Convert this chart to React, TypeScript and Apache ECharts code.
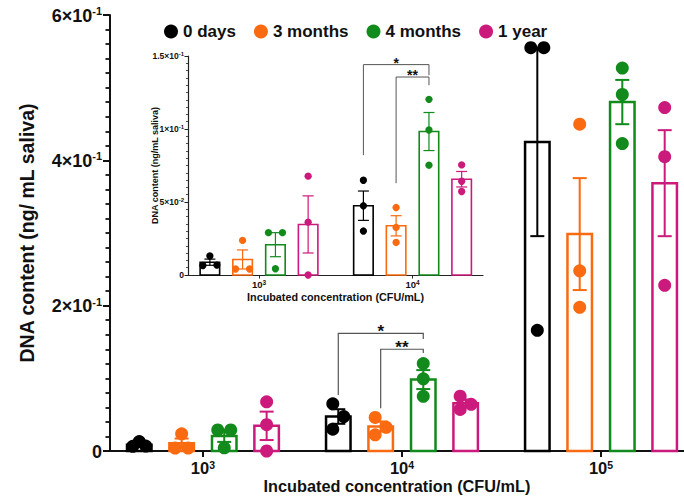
import React, { useEffect, useRef } from 'react';
import * as echarts from 'echarts';

// ---------- data ----------
const groupNames = ['0 days', '3 months', '4 months', '1 year'];
const groupColors = ['#000000', '#FA6A10', '#128A1C', '#CC1A7C'];
const xTickLabels = ['10|3', '10|4', '10|5'];
const insetXTickLabels = ['10|3', '10|4'];
const mainYTickLabels = ['0', '2×10|-1', '4×10|-1', '6×10|-1'];
const insetYTickLabels = ['0', '5×10|-2', '1×10|-1', '1.5×10|-1'];

// replicate values (ng/mL saliva) per concentration: [10^3, 10^4, 10^5]
const days0 = [[0.013, 0.0065, 0.0068], [0.0649, 0.0474, 0.0301], [0.555, 0.555, 0.166]];
const months3 = [[0.0237, 0.0041, 0.0041], [0.0462, 0.0326, 0.0223], [0.4498, 0.248, 0.1977]];
const months4 = [[0.029, 0.029, 0.0043], [0.1203, 0.0993, 0.0752], [0.527, 0.4906, 0.423]];
const year1 = [[0.0677, 0.0362, 0.0], [0.0754, 0.0642, 0.0572], [0.4727, 0.405, 0.228]];
const replicates = [days0, months3, months4, year1];

// significance brackets (within 10^4 group): from series -> to series
const bracketLabels = ['*', '**'];
const bracketFrom = [0, 1];
const bracketTo = [2, 2];
const mainBracketTop = [0.162, 0.14];
const mainBracketLeftEnd = [0.077, 0.059];
const mainBracketRightEnd = [0.154, 0.135];
const insetBracketTop = [0.1441, 0.1356];
const insetBracketLeftEnd = [0.0821, 0.0629];
const insetBracketRightEnd = [0.1368, 0.13];

// ---------- layout ----------
const FONT = '"Liberation Sans", Arial, Helvetica, sans-serif';
const seriesOffset = [-0.32, -0.107, 0.107, 0.32];
const MAIN = { left: 110, top: 15, width: 574, height: 436, xMin: 0.533, xMax: 3.417, yMax: 0.6, yInt: 0.2 };
const INSET = { left: 188, top: 56, width: 295, height: 219, xMin: 0.5375, xMax: 2.459, yMax: 0.15, yInt: 0.05 };

const mean = (a: number[]) => a.reduce((s, v) => s + v, 0) / a.length;
const sem = (a: number[]) => {
  const m = mean(a);
  const sd = Math.sqrt(a.reduce((s, v) => s + (v - m) * (v - m), 0) / (a.length - 1));
  return sd / Math.sqrt(a.length);
};

function beeswarm(vals: number[], pxPerY: number, d: number, rowTol: number, spread: number, alt: number): number[] {
  const order = vals.map((_, i) => i).sort((a, b) => vals[a] - vals[b]);
  const rows: { y0: number; items: number[] }[] = [];
  for (const i of order) {
    const y = vals[i] * pxPerY;
    const last = rows[rows.length - 1];
    if (last && y - last.y0 < rowTol) last.items.push(i);
    else rows.push({ y0: y, items: [i] });
  }
  const off = vals.map(() => 0);
  rows.forEach((r) => {
    const n = r.items.length;
    if (n > 1) r.items.forEach((i, k) => (off[i] = (k - (n - 1) / 2) * spread));
  });
  let chain: number[] = [];
  const flush = () => {
    if (chain.length > 1) chain.forEach((ri, k) => (off[rows[ri].items[0]] = k % 2 === 0 ? -alt : alt));
    chain = [];
  };
  rows.forEach((r, ri) => {
    if (r.items.length !== 1) { flush(); return; }
    if (chain.length && r.y0 - rows[chain[chain.length - 1]].y0 < d) chain.push(ri);
    else { flush(); chain = [ri]; }
  });
  flush();
  return off;
}

function supLabel(s: string) {
  if (s.indexOf('|') < 0) return `{b|${s}}`;
  const [b, p] = s.split('|');
  return `{b|${b}}{s|${p}}`;
}

function richFor(base: number, sup: number) {
  return {
    b: { fontSize: base, fontWeight: 'bold', fontFamily: FONT, color: '#111', verticalAlign: 'bottom', lineHeight: base + 1 },
    s: { fontSize: sup, fontWeight: 'bold', fontFamily: FONT, color: '#111', verticalAlign: 'top', lineHeight: sup + 1 },
  };
}

function buildGrid(gi: number, L: typeof MAIN, nConc: number, opt: {
  barW: number; barLW: number; errLW: number; cap: number; dot: number; rowTol: number; spread: number; alt: number;
}) {
  const pxX = L.width / (L.xMax - L.xMin);
  const pxY = L.height / L.yMax;
  const series: any[] = [];
  groupNames.forEach((name, g) => {
    const color = groupColors[g];
    const barData = replicates[g].slice(0, nConc).map((vals, c) => [c + 1 + seriesOffset[g], mean(vals), sem(vals)]);
    series.push({
      type: 'custom',
      name: name + ' bar',
      xAxisIndex: gi,
      yAxisIndex: gi,
      z: 2,
      encode: { x: 0, y: 1 },
      data: barData,
      renderItem: (params: any, api: any) => {
        const x = api.value(0);
        const m = api.value(1);
        const s = api.value(2);
        const p0 = api.coord([x, 0]);
        const p1 = api.coord([x, m]);
        const pt = api.coord([x, m + s]);
        const pb = api.coord([x, Math.max(0, m - s)]);
        const w = opt.barW;
        const st = { stroke: color, lineWidth: opt.errLW, fill: 'none' };
        return {
          type: 'group',
          children: [
            { type: 'rect', shape: { x: p0[0] - w / 2, y: p1[1], width: w, height: p0[1] - p1[1] }, style: { fill: 'none', stroke: color, lineWidth: opt.barLW } },
            { type: 'line', shape: { x1: p0[0], y1: pb[1], x2: p0[0], y2: pt[1] }, style: st },
            { type: 'line', shape: { x1: p0[0] - opt.cap, y1: pt[1], x2: p0[0] + opt.cap, y2: pt[1] }, style: st },
            { type: 'line', shape: { x1: p0[0] - opt.cap, y1: pb[1], x2: p0[0] + opt.cap, y2: pb[1] }, style: st },
          ],
        };
      },
    });
    const pts: number[][] = [];
    replicates[g].slice(0, nConc).forEach((vals, c) => {
      const off = beeswarm(vals, pxY, opt.dot, opt.rowTol, opt.spread, opt.alt);
      vals.forEach((v, k) => pts.push([c + 1 + seriesOffset[g] + off[k] / pxX, v]));
    });
    series.push({
      type: 'scatter',
      name,
      xAxisIndex: gi,
      yAxisIndex: gi,
      z: 3,
      symbol: 'circle',
      symbolSize: opt.dot,
      itemStyle: { color, opacity: 1, borderWidth: 0 },
      data: pts,
    });
  });
  return series;
}

function bracketSeries(gi: number, top: number[], le: number[], re: number[], fontSize: number, lw: number, starLift: number) {
  const data = bracketLabels.map((_, i) => [
    2 + seriesOffset[bracketFrom[i]], 2 + seriesOffset[bracketTo[i]], top[i], le[i], re[i],
  ]);
  return {
    type: 'custom',
    name: 'brackets' + gi,
    xAxisIndex: gi,
    yAxisIndex: gi,
    z: 4,
    encode: { x: [0, 1], y: [2] },
    data,
    renderItem: (params: any, api: any) => {
      const x1 = api.value(0), x2 = api.value(1), t = api.value(2), l = api.value(3), r = api.value(4);
      const a = api.coord([x1, l]);
      const b = api.coord([x1, t]);
      const c = api.coord([x2, t]);
      const d = api.coord([x2, r]);
      return {
        type: 'group',
        children: [
          { type: 'polyline', shape: { points: [a, b, c, d] }, style: { stroke: '#555', lineWidth: lw, fill: 'none' } },
          {
            type: 'text',
            x: (b[0] + c[0]) / 2,
            y: b[1] - starLift,
            style: { text: bracketLabels[params.dataIndex], fontSize, fontWeight: 'bold', fontFamily: FONT, fill: '#111', align: 'center', verticalAlign: 'middle' },
          },
        ],
      };
    },
  };
}

export default function App() {
  const ref = useRef<HTMLDivElement>(null);
  useEffect(() => {
    if (!ref.current) return;
    const chart = echarts.init(ref.current, undefined, { renderer: 'svg' });
    const mainSeries = buildGrid(0, MAIN, 3, { barW: 24.5, barLW: 2.5, errLW: 2, cap: 7, dot: 13, rowTol: 3.9, spread: 13, alt: 5.5 });
    const insetSeries = buildGrid(1, INSET, 2, { barW: 19.5, barLW: 1.6, errLW: 1.2, cap: 5.5, dot: 7.3, rowTol: 2.5, spread: 14, alt: 3 });
    const option: any = {
      animation: false,
      backgroundColor: '#fff',
      legend: {
        data: groupNames.map((n, i) => ({ name: n, icon: 'circle', itemStyle: { color: groupColors[i] } })),
        selectedMode: false,
        left: 159,
        top: 18,
        itemWidth: 14,
        itemHeight: 14,
        itemGap: 18,
        textStyle: { fontSize: 17, fontWeight: 'bold', fontFamily: FONT, color: '#111' },
      },
      grid: [
        { left: MAIN.left, top: MAIN.top, width: MAIN.width, height: MAIN.height },
        { left: INSET.left, top: INSET.top, width: INSET.width, height: INSET.height },
      ],
      xAxis: [
        {
          type: 'value', gridIndex: 0, min: MAIN.xMin, max: MAIN.xMax,
          axisLine: { show: true, onZero: false, lineStyle: { color: '#111', width: 2 } },
          axisTick: { show: true, customValues: [1, 2, 3], length: 6, lineStyle: { color: '#111', width: 2 } },
          axisLabel: {
            customValues: [1, 2, 3], margin: 8,
            formatter: (v: number) => supLabel(xTickLabels[Math.round(v) - 1] || ''),
            rich: richFor(16.5, 10.5),
          },
          splitLine: { show: false },
          name: 'Incubated concentration (CFU/mL)', nameLocation: 'middle', nameGap: 27, nameMoveOverlap: false,
          nameTextStyle: { fontSize: 16.3, fontWeight: 'bold', fontFamily: FONT, color: '#111' },
        },
        {
          type: 'value', gridIndex: 1, min: INSET.xMin, max: INSET.xMax,
          axisLine: { show: true, onZero: false, lineStyle: { color: '#222', width: 1.2 } },
          axisTick: { show: true, customValues: [1, 2], length: 3.5, lineStyle: { color: '#222', width: 1 } },
          axisLabel: {
            customValues: [1, 2], margin: 4,
            formatter: (v: number) => supLabel(insetXTickLabels[Math.round(v) - 1] || ''),
            rich: richFor(9.5, 6.5),
          },
          splitLine: { show: false },
          name: 'Incubated concentration (CFU/mL)', nameLocation: 'middle', nameGap: 16, nameMoveOverlap: false,
          nameTextStyle: { fontSize: 10.8, fontWeight: 'bold', fontFamily: FONT, color: '#111' },
        },
      ],
      yAxis: [
        {
          type: 'value', gridIndex: 0, min: 0, max: MAIN.yMax, interval: MAIN.yInt,
          axisLine: { show: true, onZero: false, lineStyle: { color: '#111', width: 2 } },
          axisTick: { show: true, length: 7, lineStyle: { color: '#111', width: 2 } },
          minorTick: { show: true, splitNumber: 10, length: 4.5, lineStyle: { color: '#111', width: 1.8 } },
          axisLabel: {
            margin: 8,
            formatter: (v: number) => supLabel(mainYTickLabels[Math.round(v / MAIN.yInt)] || ''),
            rich: richFor(18, 11),
          },
          splitLine: { show: false },
          minorSplitLine: { show: false },
          name: 'DNA content (ng/ mL saliva)', nameLocation: 'middle', nameGap: 73, nameMoveOverlap: false,
          nameTextStyle: { fontSize: 19.5, fontWeight: 'bold', fontFamily: FONT, color: '#111' },
        },
        {
          type: 'value', gridIndex: 1, min: 0, max: INSET.yMax, interval: INSET.yInt,
          axisLine: { show: true, onZero: false, lineStyle: { color: '#222', width: 1.2 } },
          axisTick: { show: true, length: 3.5, lineStyle: { color: '#222', width: 1 } },
          minorTick: { show: true, splitNumber: 10, length: 2, lineStyle: { color: '#222', width: 0.8 } },
          axisLabel: {
            margin: 4,
            formatter: (v: number) => supLabel(insetYTickLabels[Math.round(v / INSET.yInt)] || ''),
            rich: richFor(8.5, 6),
          },
          splitLine: { show: false },
          minorSplitLine: { show: false },
          name: 'DNA content (ng/mL saliva)', nameLocation: 'middle', nameGap: 28.5, nameMoveOverlap: false,
          nameTextStyle: { fontSize: 9, fontWeight: 'bold', fontFamily: FONT, color: '#111' },
        },
      ],
      series: [
        ...mainSeries,
        bracketSeries(0, mainBracketTop, mainBracketLeftEnd, mainBracketRightEnd, 17, 1.2, 2),
        ...insetSeries,
        bracketSeries(1, insetBracketTop, insetBracketLeftEnd, insetBracketRightEnd, 14, 1, 2),
      ],
    };
    chart.setOption(option);
    return () => chart.dispose();
  }, []);
  return <div ref={ref} style={{ position: 'fixed', left: 0, top: 0, width: 684, height: 502 }} />;
}
